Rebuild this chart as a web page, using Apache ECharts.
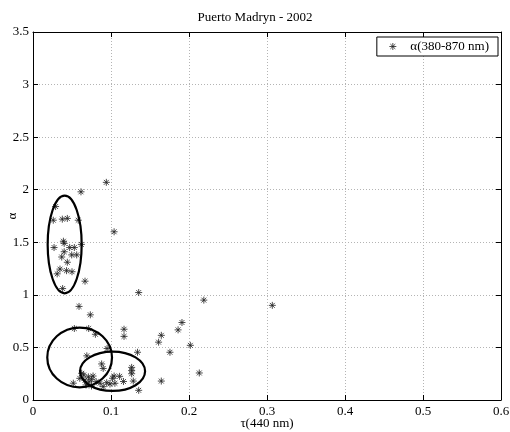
<!DOCTYPE html>
<html>
<head>
<meta charset="utf-8">
<script src="https://cdn.jsdelivr.net/npm/echarts@6/dist/echarts.min.js"></script>
<style>
  html, body { margin: 0; padding: 0; background: #fff; }
  #chart { width: 510px; height: 432px; }
</style>
</head>
<body>
<div id="chart"></div>
<script>
// Aerosol optical depth at 440 nm and Angstrom exponent, Puerto Madryn 2002
const tau = [
  0.094, 0.0615, 0.029, 0.026, 0.0376, 0.044, 0.058, 0.104, 0.039, 0.040,
  0.027, 0.047, 0.053, 0.062, 0.040, 0.0496, 0.056, 0.0368, 0.044, 0.0346,
  0.043, 0.050, 0.031, 0.0667, 0.038,
  0.1355, 0.219, 0.3068, 0.059, 0.0735, 0.053, 0.0714, 0.080, 0.1167, 0.1167,
  0.191, 0.186, 0.1645, 0.161, 0.2017, 0.1756, 0.134, 0.095, 0.069, 0.2132,
  0.1645, 0.1355,
  0.088, 0.090, 0.1265, 0.1265, 0.1265, 0.065, 0.071, 0.077, 0.111, 0.104,
  0.060, 0.0667, 0.075, 0.081, 0.086, 0.0945, 0.0987, 0.105, 0.116, 0.1286,
  0.0517, 0.068, 0.075, 0.090, 0.072, 0.0624, 0.102
];
const alpha = [
  2.07, 1.98, 1.84, 1.71, 1.72, 1.727, 1.71, 1.60, 1.51, 1.49,
  1.45, 1.45, 1.45, 1.48, 1.41, 1.38, 1.38, 1.36, 1.31, 1.245,
  1.23, 1.22, 1.20, 1.13, 1.06,
  1.022, 0.95, 0.90, 0.89, 0.81, 0.68, 0.68, 0.625, 0.673, 0.605,
  0.737, 0.667, 0.615, 0.55, 0.52, 0.454, 0.454, 0.49, 0.42, 0.257,
  0.18, 0.092,
  0.343, 0.30, 0.31, 0.28, 0.25, 0.238, 0.22, 0.228, 0.225, 0.228,
  0.206, 0.19, 0.197, 0.174, 0.159, 0.165, 0.152, 0.159, 0.176, 0.18,
  0.160, 0.143, 0.133, 0.127, 0.174, 0.254, 0.207
];

// Cluster outlines: centre tau, centre alpha, half-width (tau), half-height (alpha)
const ellipseCx = [0.0406, 0.0598, 0.102];
const ellipseCy = [1.479, 0.405, 0.273];
const ellipseRx = [0.0218, 0.0415, 0.0417];
const ellipseRy = [0.464, 0.284, 0.187];

const xTicks = [0, 0.1, 0.2, 0.3, 0.4, 0.5, 0.6];
const yTicks = [0, 0.5, 1, 1.5, 2, 2.5, 3, 3.5];

const points = tau.map((t, i) => [t, alpha[i]]);
const ellipses = ellipseCx.map((cx, i) => [cx, ellipseCy[i], ellipseRx[i], ellipseRy[i]]);

const FONT = 'Liberation Serif';
const asterisk = 'path://M5,0L5,10M0,5L10,5M1.5,1.5L8.5,8.5M8.5,1.5L1.5,8.5';

const gridLine = { show: true, lineStyle: { color: '#b4b4b4', type: [1, 2], width: 1 } };
const axisLine = { show: true, onZero: false, lineStyle: { color: '#000', width: 1 } };
const tickIn = { show: true, inside: true, length: 5, lineStyle: { color: '#000' } };
const markStyle = { color: 'rgba(0,0,0,0)', borderColor: '#222', borderWidth: 1 };

const chart = echarts.init(document.getElementById('chart'), null, { renderer: 'canvas' });
chart.setOption({
  backgroundColor: '#fff',
  animation: false,
  title: {
    text: 'Puerto Madryn - 2002',
    left: 'center',
    top: 6,
    textStyle: { fontFamily: FONT, fontSize: 13, fontWeight: 'normal', color: '#000' }
  },
  legend: {
    right: 12,
    top: 37,
    orient: 'vertical',
    data: [{ name: 'α(380-870 nm)', icon: asterisk, itemStyle: markStyle }],
    itemWidth: 7,
    itemHeight: 7,
    itemGap: 0,
    padding: [3, 9, 3, 12],
    borderColor: '#000',
    borderWidth: 1,
    backgroundColor: '#fff',
    textStyle: { fontFamily: FONT, fontSize: 13, color: '#000', padding: [0, 0, 0, 9] }
  },
  grid: { left: 33, right: 9, top: 32, bottom: 32, outerBoundsMode: 'none', containLabel: false },
  xAxis: [
    {
      type: 'value', min: 0, max: 0.6, interval: 0.1,
      name: 'τ(440 nm)', nameLocation: 'middle', nameGap: 17, nameMoveOverlap: false,
      nameTextStyle: { fontFamily: FONT, fontSize: 13, color: '#000' },
      axisLine, axisTick: tickIn, splitLine: gridLine,
      axisLabel: {
        fontFamily: FONT, fontSize: 13, color: '#000', margin: 5,
        formatter: v => { const s = xTicks.find(t => Math.abs(t - v) < 1e-9); return s === undefined ? '' : String(s); }
      }
    },
    {
      type: 'value', min: 0, max: 0.6, interval: 0.1, position: 'top',
      axisLine, axisTick: tickIn, splitLine: { show: false }, axisLabel: { show: false }
    }
  ],
  yAxis: [
    {
      type: 'value', min: 0, max: 3.5, interval: 0.5,
      name: 'α', nameLocation: 'middle', nameGap: 14, nameRotate: 90, nameMoveOverlap: false,
      nameTextStyle: { fontFamily: FONT, fontSize: 13, color: '#000' },
      axisLine, axisTick: tickIn, splitLine: gridLine,
      axisLabel: {
        fontFamily: FONT, fontSize: 13, color: '#000', margin: 4,
        formatter: v => { const s = yTicks.find(t => Math.abs(t - v) < 1e-9); return s === undefined ? '' : String(s); }
      }
    },
    {
      type: 'value', min: 0, max: 3.5, interval: 0.5, position: 'right',
      axisLine, axisTick: tickIn, splitLine: { show: false }, axisLabel: { show: false }
    }
  ],
  series: [
    {
      name: 'α(380-870 nm)',
      type: 'scatter',
      data: points,
      symbol: asterisk,
      symbolSize: 7,
      itemStyle: markStyle,
      z: 3
    },
    {
      name: 'clusters',
      type: 'custom',
      data: ellipses,
      silent: true,
      z: 4,
      renderItem: (params, api) => {
        const c = api.coord([api.value(0), api.value(1)]);
        const sz = api.size([api.value(2), api.value(3)]);
        const rx = sz[0], ry = sz[1];
        const d = `M${c[0] - rx},${c[1]} A${rx},${ry} 0 1 0 ${c[0] + rx},${c[1]} A${rx},${ry} 0 1 0 ${c[0] - rx},${c[1]} Z`;
        return {
          type: 'path',
          shape: { pathData: d },
          style: { fill: 'none', stroke: '#000', lineWidth: 2.2 }
        };
      }
    }
  ]
});
</script>
</body>
</html>
